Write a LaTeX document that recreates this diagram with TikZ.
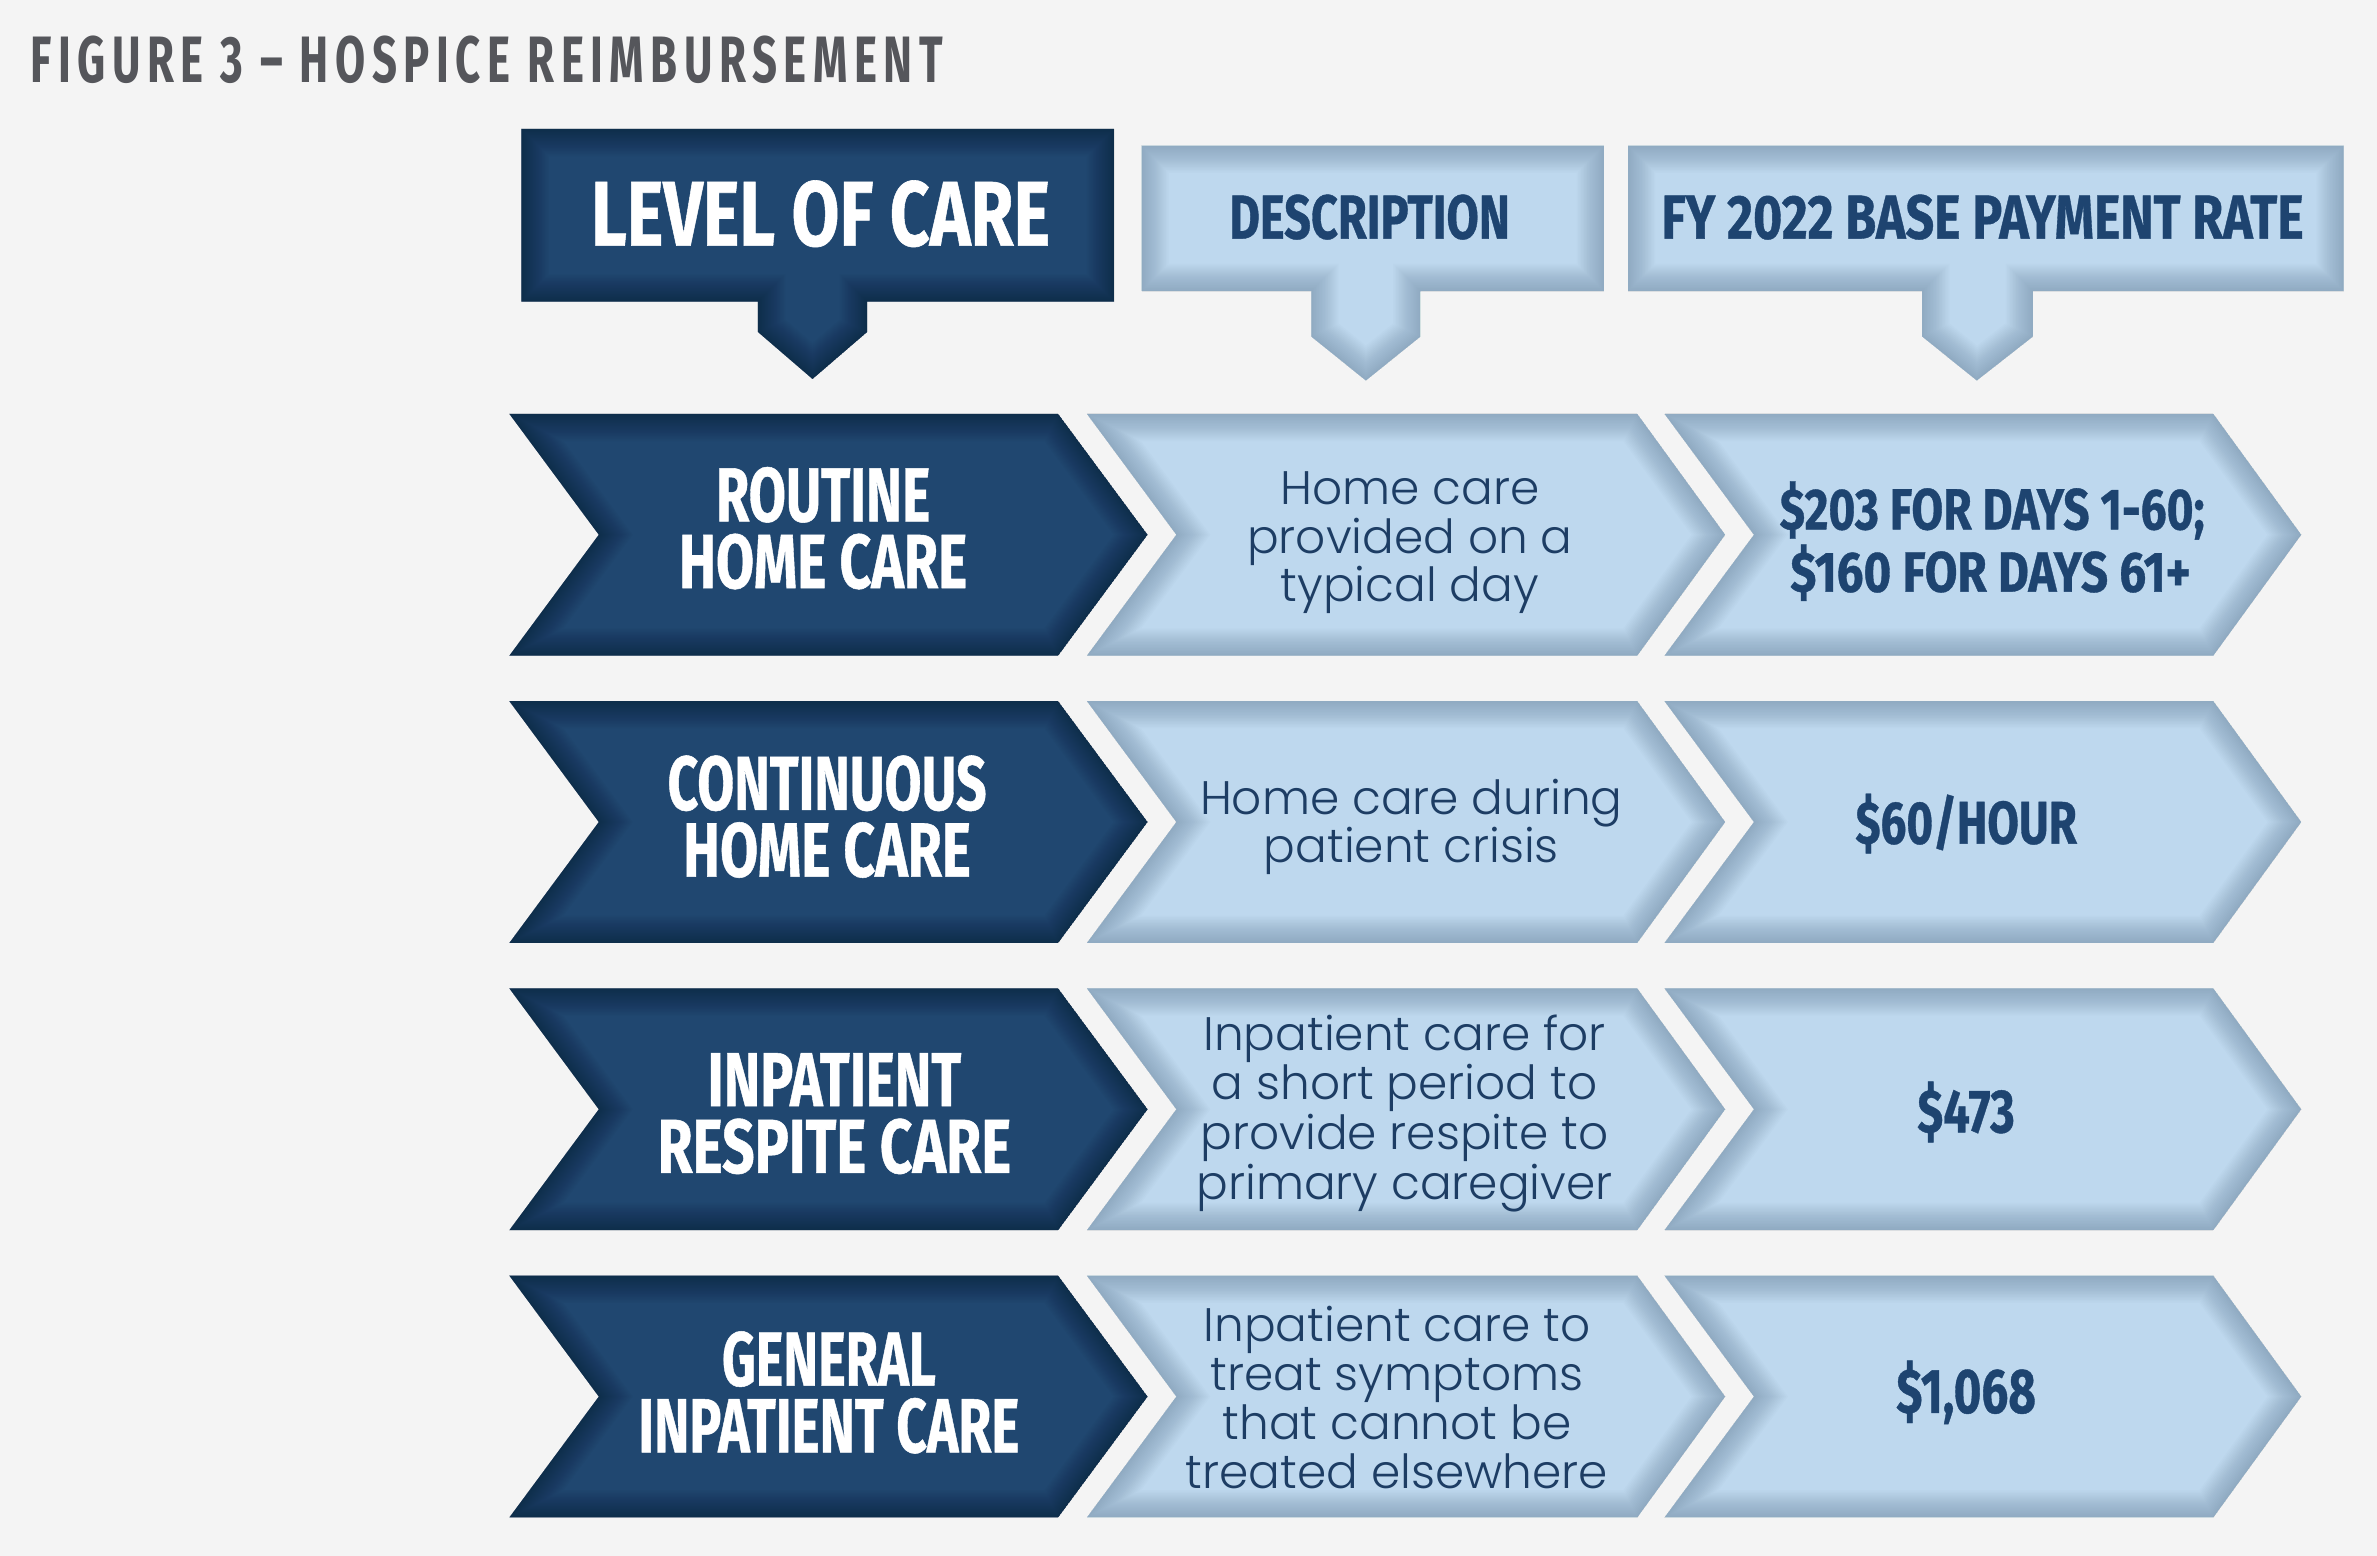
\documentclass[tikz,border=0pt]{standalone}
\usepackage{fontspec}
\usepackage{graphicx}
\newfontfamily\condfont[FakeBold=0.7]{Fira Sans}
\newfontfamily\titlefontA[LetterSpace=15]{Fira Sans}
\IfFontExistsTF{Poppins Light}{\newfontfamily\descfont{Poppins Light}}{\newfontfamily\descfont{Poppins}}
\definecolor{bgc}{HTML}{F4F4F4}
\definecolor{darkfill}{HTML}{204770}
\definecolor{darkshadow}{HTML}{081626}
\definecolor{lightfill}{HTML}{BED8EE}
\definecolor{lightshadow}{HTML}{5A7590}
\definecolor{navytext}{HTML}{1E4470}
\definecolor{desctext}{HTML}{1D3D64}
\definecolor{titlegray}{HTML}{55565B}
\newcommand\capfit[4]{\resizebox{#2pt}{#3pt}{#1\raisebox{0pt}[\fontcharht\font`H][0pt]{#4}}}
\newcommand\cf[2]{\capfit{\condfont\bfseries}{#1}{35}{#2}}
\newcommand\hsShape[3]{%
  \begin{scope}
    \clip #3;
    \fill[#1] #3;
    \foreach \w in {2,4,...,36}{\draw[#2, line width=\w pt, opacity=0.028, line join=miter] #3;}
  \end{scope}}
\tikzset{
  tx/.style={inner sep=0pt, outer sep=0pt, anchor=base west},
  lvl/.style={inner sep=0pt, outer sep=0pt, anchor=north, align=center, text=white, font=\fontsize{10}{44}\selectfont},
  dtx/.style={inner sep=0pt, outer sep=0pt, anchor=base, text=desctext, font=\descfont\fontsize{31}{33}\selectfont},
}
\begin{document}
\begin{tikzpicture}[x=1pt,y=-1pt]
\useasboundingbox (0,0) rectangle (1568,1026.4);
\fill[bgc] (0,0) rectangle (1568,1026.4);

% title
\node[tx, text=titlegray] (title) at (20,54.3) {\capfit{\titlefontA\bfseries}{602}{30}{FIGURE 3 – HOSPICE REIMBURSEMENT}};

% header boxes
\hsShape{darkfill}{darkshadow}{(344,85) -- (735,85) -- (735,199) -- (572,199) -- (572,219) -- (536,250) -- (500,219) -- (500,199) -- (344,199) -- cycle}
\hsShape{lightfill}{lightshadow}{(753,96) -- (1058,96) -- (1058,192) -- (937,192) -- (937,222) -- (901,251) -- (865,222) -- (865,192) -- (753,192) -- cycle}
\hsShape{lightfill}{lightshadow}{(1074,96) -- (1546,96) -- (1546,192) -- (1341,192) -- (1341,222) -- (1304,251) -- (1268,222) -- (1268,192) -- (1074,192) -- cycle}

\node[tx, text=white] (hloc) at (390,162) {\capfit{\condfont\bfseries}{302.6}{42}{LEVEL OF CARE}};
\node[tx, text=navytext] (hdesc) at (811,157.4) {\capfit{\condfont\bfseries}{185}{28.4}{DESCRIPTION}};
\node[tx, text=navytext] (hrate) at (1096,157.4) {\capfit{\condfont\bfseries}{423.5}{28.4}{FY 2022 BASE PAYMENT RATE}};

% rows of chevrons
\foreach \T in {273,462.5,652,841.5}{
  \pgfmathsetmacro\M{\T+79.75}
  \pgfmathsetmacro\B{\T+159.5}
  \hsShape{darkfill}{darkshadow}{(336,\T) -- (698,\T) -- (757,\M) -- (698,\B) -- (336,\B) -- (395,\M) -- cycle}
  \hsShape{lightfill}{lightshadow}{(717,\T) -- (1080,\T) -- (1138,\M) -- (1080,\B) -- (717,\B) -- (776,\M) -- cycle}
  \hsShape{lightfill}{lightshadow}{(1098,\T) -- (1460,\T) -- (1518,\M) -- (1460,\B) -- (1098,\B) -- (1157,\M) -- cycle}
}

% level of care labels
\node[lvl] (l1) at (543,308.9) {\cf{141.4}{ROUTINE}\\\cf{190.1}{HOME CARE}};
\node[lvl] (l2) at (545.6,499.2) {\cf{210.4}{CONTINUOUS}\\\cf{189.8}{HOME CARE}};
\node[lvl] (l3) at (550.4,694.7) {\cf{167.3}{INPATIENT}\\\cf{233.3}{RESPITE CARE}};
\node[lvl] (l4) at (546.8,879) {\cf{141.1}{GENERAL}\\\cf{251.3}{INPATIENT CARE}};

% descriptions
\node[dtx] (d1a) at (930,332.8) {Home care};
\node[dtx] (d1b) at (930,365) {provided on a};
\node[dtx] (d1c) at (930,396.6) {typical day};
\node[dtx] (d2a) at (931,537) {Home care during};
\node[dtx] (d2b) at (931,569) {patient crisis};
\node[dtx] (d3a) at (926.5,692.9) {Inpatient care for};
\node[dtx] (d3b) at (926.5,725.6) {a short period to};
\node[dtx] (d3c) at (926.5,758.3) {provide respite to};
\node[dtx] (d3d) at (926.5,791.3) {primary caregiver};
\node[dtx] (d4a) at (921.5,885) {Inpatient care to};
\node[dtx] (d4b) at (921.5,917.3) {treat symptoms};
\node[dtx] (d4c) at (921.5,949.6) {that cannot be};
\node[dtx] (d4d) at (921.5,982) {treated elsewhere};

% rates
\node[tx, text=navytext] (r1a) at (1174,349.2) {\capfit{\condfont\bfseries}{280.3}{26.5}{\$203 FOR DAYS 1-60;}};
\node[tx, text=navytext] (r1b) at (1181,390.3) {\capfit{\condfont\bfseries}{264}{26}{\$160 FOR DAYS 61+}};
\node[tx, text=navytext] (r2) at (1224,556.5) {\capfit{\condfont\bfseries}{146}{27.5}{\$60/HOUR}};
\node[tx, text=navytext] (r3) at (1264.8,747) {\capfit{\condfont\bfseries}{64.2}{28}{\$473}};
\node[tx, text=navytext] (r4) at (1250.9,932) {\capfit{\condfont\bfseries}{92.1}{28.8}{\$1,068}};
\end{tikzpicture}
\end{document}
